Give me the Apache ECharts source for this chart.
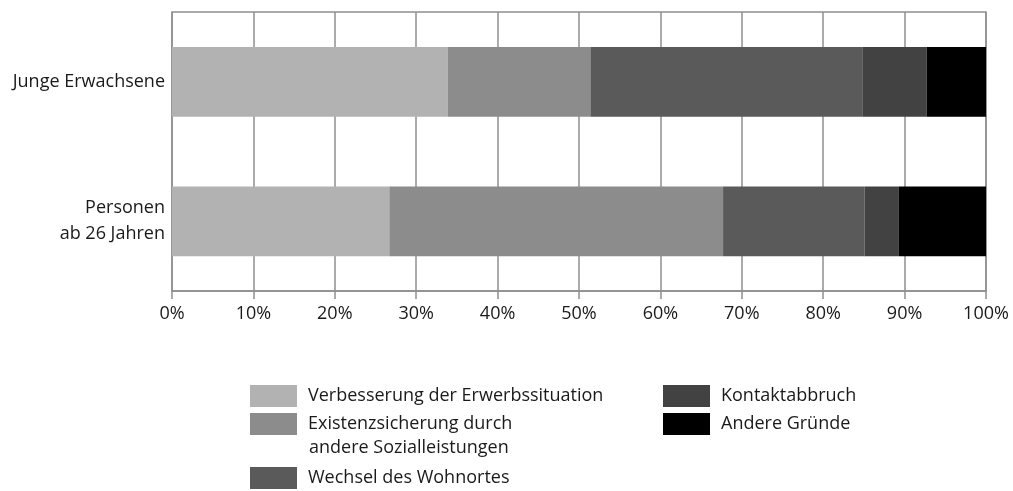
<!DOCTYPE html>
<html><head><meta charset="utf-8">
<script src="https://cdn.jsdelivr.net/npm/echarts@6/dist/echarts.min.js"></script>
<style>html,body{margin:0;padding:0;background:#fff}#c{width:1013px;height:491px}</style>
</head><body><div id="c"></div>
<script>
const categories = ['Junge Erwachsene', 'Personen\nab 26 Jahren'];
const seriesNames = ['Verbesserung der Erwerbssituation', 'Existenzsicherung durch', 'Wechsel des Wohnortes', 'Kontaktabbruch', 'Andere Gründe'];
const legendSecondLine = 'andere Sozialleistungen';
const verbesserung = [33.9, 26.7];
const existenz = [17.5, 41.0];
const wechsel = [33.4, 17.4];
const kontakt = [7.9, 4.2];
const andere = [7.3, 10.7];
const xTicks = [0, 10, 20, 30, 40, 50, 60, 70, 80, 90, 100];
const colors = ['#b2b2b2', '#8c8c8c', '#5a5a5a', '#424242', '#000000'];
const values = [verbesserung, existenz, wechsel, kontakt, andere];

const FONT = 'Open Sans';
const FS = 18;
const textColor = '#1a1a1a';
const lineColor = '#8f8f8f';
const legendPos = [
  {left: 250, top: 385},
  {left: 250, top: 413},
  {left: 250, top: 467},
  {left: 663, top: 385},
  {left: 663, top: 413}
];
const chart = echarts.init(document.getElementById('c'), null, {renderer: 'canvas'});
chart.setOption({
  animation: false,
  color: colors,
  grid: {left: 172, right: 27, top: 12, bottom: 200, show: true, borderColor: lineColor, borderWidth: 1.5, containLabel: false},
  xAxis: {
    type: 'value', min: 0, max: 100, interval: 10,
    axisLine: {show: true, lineStyle: {color: lineColor, width: 1.5}},
    axisTick: {show: true, length: 8, lineStyle: {color: lineColor, width: 1.5}},
    splitLine: {show: true, lineStyle: {color: lineColor, width: 1.5}},
    axisLabel: {formatter: v => xTicks.includes(v) ? v + '%' : '', color: textColor, fontFamily: FONT, fontSize: FS, margin: 14}
  },
  yAxis: {
    type: 'category', data: categories, inverse: true,
    axisLine: {show: false}, axisTick: {show: false}, splitLine: {show: false},
    axisLabel: {color: textColor, fontFamily: FONT, fontSize: FS, lineHeight: 26, margin: 7, align: 'right'}
  },
  legend: seriesNames.map((n, i) => ({
    data: [n], left: legendPos[i].left, top: legendPos[i].top, padding: 0,
    itemWidth: 47, itemHeight: 22, itemGap: 0, icon: 'rect', selectedMode: false,
    textStyle: {color: textColor, fontFamily: FONT, fontSize: FS, lineHeight: 22, padding: [0, 0, 0, 6]}
  })),
  graphic: [{
    type: 'text', left: 309, top: 439,
    style: {text: legendSecondLine, fill: textColor, font: FS + 'px "' + FONT + '"'}
  }],
  series: seriesNames.map((n, i) => ({
    name: n, type: 'bar', stack: 'total', data: values[i], barWidth: '50%',
    itemStyle: {color: colors[i]}
  }))
});
</script></body></html>
